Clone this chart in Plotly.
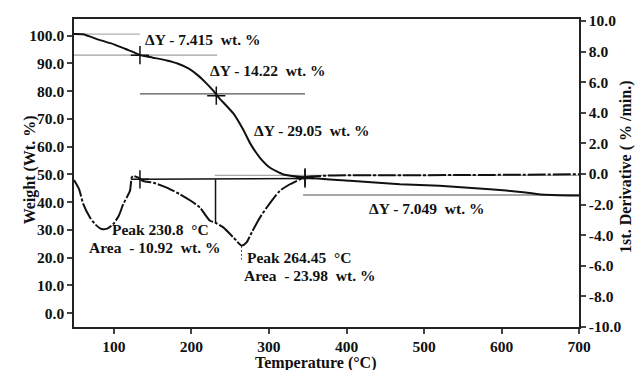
import plotly.graph_objects as go

# ---- data ----
tg_temp = [48.4, 60, 82, 100, 115, 125, 133.5, 150, 168, 182, 196, 208, 218, 228, 234.6, 254, 267,
           275.5, 288.4, 301, 318.5, 346.5, 404.5, 469, 520, 585, 628, 650, 700]
tg_weight = [100.6, 100.5, 98.4, 96.9, 95.2, 94.1, 93.0, 92.1, 91.1, 90.0, 88.2, 85.8, 83.2,
             80.2, 77.9, 72.0, 66.0, 61.3, 56.0, 52.5, 50.0, 48.9, 47.7, 46.5, 45.9, 44.7, 43.6,
             42.8, 42.4]

dtg_temp = [48.4, 55, 60.4, 69, 76, 84.1, 92, 99.1, 106, 112, 120.6, 122.8, 124.9, 131.4,
            137.8, 150.7, 168, 185, 199, 211, 223.9, 230.3, 241, 254, 264.8, 271, 277.7,
            288.4, 297, 314, 327, 340, 346.5, 380, 450, 550, 700]
dtg_rate = [-0.4, -1.0, -1.97, -2.84, -3.3, -3.6, -3.55, -3.27, -2.75, -1.97, -1.1, -0.24,
            -0.13, -0.24, -0.46, -0.57, -0.89, -1.32, -1.75, -2.2, -3.06, -3.17, -3.49, -4.14,
            -4.68, -4.47, -3.82, -2.84, -2.2, -1.1, -0.67, -0.35, -0.2, -0.1, -0.08, -0.07, -0.02]

# step onset temperatures and weight levels (TG)
step_temp = [133.5, 232.0, 346.5]
step_weight = [93.0, 78.4, 49.0]
# baseline segments on TG axis: (start T, end T, level)
tg_base_start = [48.4, 48.4, 133.5, 230.0, 344.0]
tg_base_end = [133.5, 233.0, 346.5, 700.0, 700.0]
tg_base_level = [100.6, 93.0, 79.05, 49.7, 42.6]
tg_base_color = ["#b0b0b0", "#a0a0a0", "#555555", "#a8a8a8", "#888888"]

# DTG integration baseline and split
dtg_base_T = [133.5, 346.5]
dtg_base_R = [-0.35, -0.3]
split_T = 231.0
split_R = [-0.35, -3.2]
peak_T = 264.5
peak_R = [-4.7, -5.6]

yticks_left = [0, 10, 20, 30, 40, 50, 60, 70, 80, 90, 100]
yticks_right = [-10, -8, -6, -4, -2, 0, 2, 4, 6, 8, 10]
xticks = [100, 200, 300, 400, 500, 600, 700]

labels = [
    ("ΔY - 7.415\u00a0 wt. %", 137.4, 98.6),
    ("ΔY - 14.22\u00a0 wt. %", 221.3, 87.3),
    ("ΔY - 29.05\u00a0 wt. %", 278.0, 66.0),
    ("ΔY - 7.049\u00a0 wt. %", 426.5, 37.6),
    ("Peak 230.8\u00a0 °C", 94.8, 30.2),
    ("Area\u00a0 - 10.92\u00a0 wt. %", 65.5, 23.6),
    ("Peak 264.45\u00a0 °C", 269.0, 20.2),
    ("Area\u00a0 - 23.98\u00a0 wt. %", 264.8, 13.5),
]

FONT = "Liberation Serif"
TICK = dict(family=FONT, size=15.5, color="#111", weight="bold")
TITLE = dict(family=FONT, size=16, color="#111", weight="bold")
ANN = dict(family=FONT, size=15.5, color="#111", weight="bold")
fig = go.Figure()

for s, e, lv, c in zip(tg_base_start, tg_base_end, tg_base_level, tg_base_color):
    fig.add_trace(go.Scatter(x=[s, e], y=[lv, lv], mode="lines",
                             line=dict(color=c, width=1.3), hoverinfo="skip", showlegend=False))

# DTG baseline + split + peak marker
fig.add_trace(go.Scatter(x=dtg_base_T, y=dtg_base_R, yaxis="y2", mode="lines",
                         line=dict(color="#111", width=1.5), showlegend=False))
fig.add_trace(go.Scatter(x=[split_T, split_T], y=split_R, yaxis="y2", mode="lines",
                         line=dict(color="#111", width=1.5), showlegend=False))
fig.add_trace(go.Scatter(x=[peak_T, peak_T], y=peak_R, yaxis="y2", mode="lines",
                         line=dict(color="#444", width=1, dash="2px,2px"), showlegend=False))

# DTG curve
fig.add_trace(go.Scatter(x=dtg_temp, y=dtg_rate, yaxis="y2", mode="lines",
                         line=dict(color="#111", width=2, dash="18px,2px,3px,2px", shape="spline", smoothing=0.6),
                         showlegend=False))
# TG curve
fig.add_trace(go.Scatter(x=tg_temp, y=tg_weight, mode="lines",
                         line=dict(color="#111", width=2, shape="spline", smoothing=0.5),
                         showlegend=False))
# step markers
fig.add_trace(go.Scatter(x=step_temp, y=step_weight, mode="markers",
                         marker=dict(symbol="cross-thin", size=13, line=dict(color="#111", width=1.5)),
                         showlegend=False))
fig.add_trace(go.Scatter(x=dtg_base_T, y=dtg_base_R, yaxis="y2", mode="markers",
                         marker=dict(symbol="cross-thin", size=13, line=dict(color="#111", width=1.5)),
                         showlegend=False))

for txt, xx, yy in labels:
    fig.add_annotation(x=xx, y=yy, text=txt, showarrow=False, xanchor="left", yanchor="middle",
                       font=ANN)

fig.add_annotation(x=-0.11, y=0.51, xref="paper", yref="paper", text="Weight (Wt. %)",
                   textangle=-90, showarrow=False, font=TITLE)
fig.add_annotation(x=1.115, y=0.52, xref="paper", yref="paper",
                   text="1st. Derivative ( % /min.)",
                   textangle=-90, showarrow=False, font=TITLE)
fig.add_annotation(x=0.478, y=-0.118, xref="paper", yref="paper", text="Temperature (°C)",
                   showarrow=False, yanchor="middle", font=TITLE)

def fmt(v):
    return "%.1f" % v

axis_common = dict(ticks="outside", ticklen=5, tickwidth=1.5, showline=True, linecolor="#222",
                   linewidth=1.5, showgrid=False, zeroline=False, tickfont=TICK)

fig.update_layout(
    width=642, height=370,
    margin=dict(l=74, r=63, t=14, b=43),
    paper_bgcolor="white", plot_bgcolor="white",
    font=TICK,
    xaxis=dict(range=[48.4, 700], tickvals=xticks, ticktext=[str(v) for v in xticks],
               mirror=True, **axis_common),
    yaxis=dict(range=[-4.97, 106.03], tickvals=yticks_left,
               ticktext=[fmt(v) for v in yticks_left], **axis_common),
    yaxis2=dict(range=[-10, 10.13], tickvals=yticks_right,
                ticktext=[fmt(v) for v in yticks_right],
                overlaying="y", side="right", **axis_common),
)

fig.write_html("out.html")
